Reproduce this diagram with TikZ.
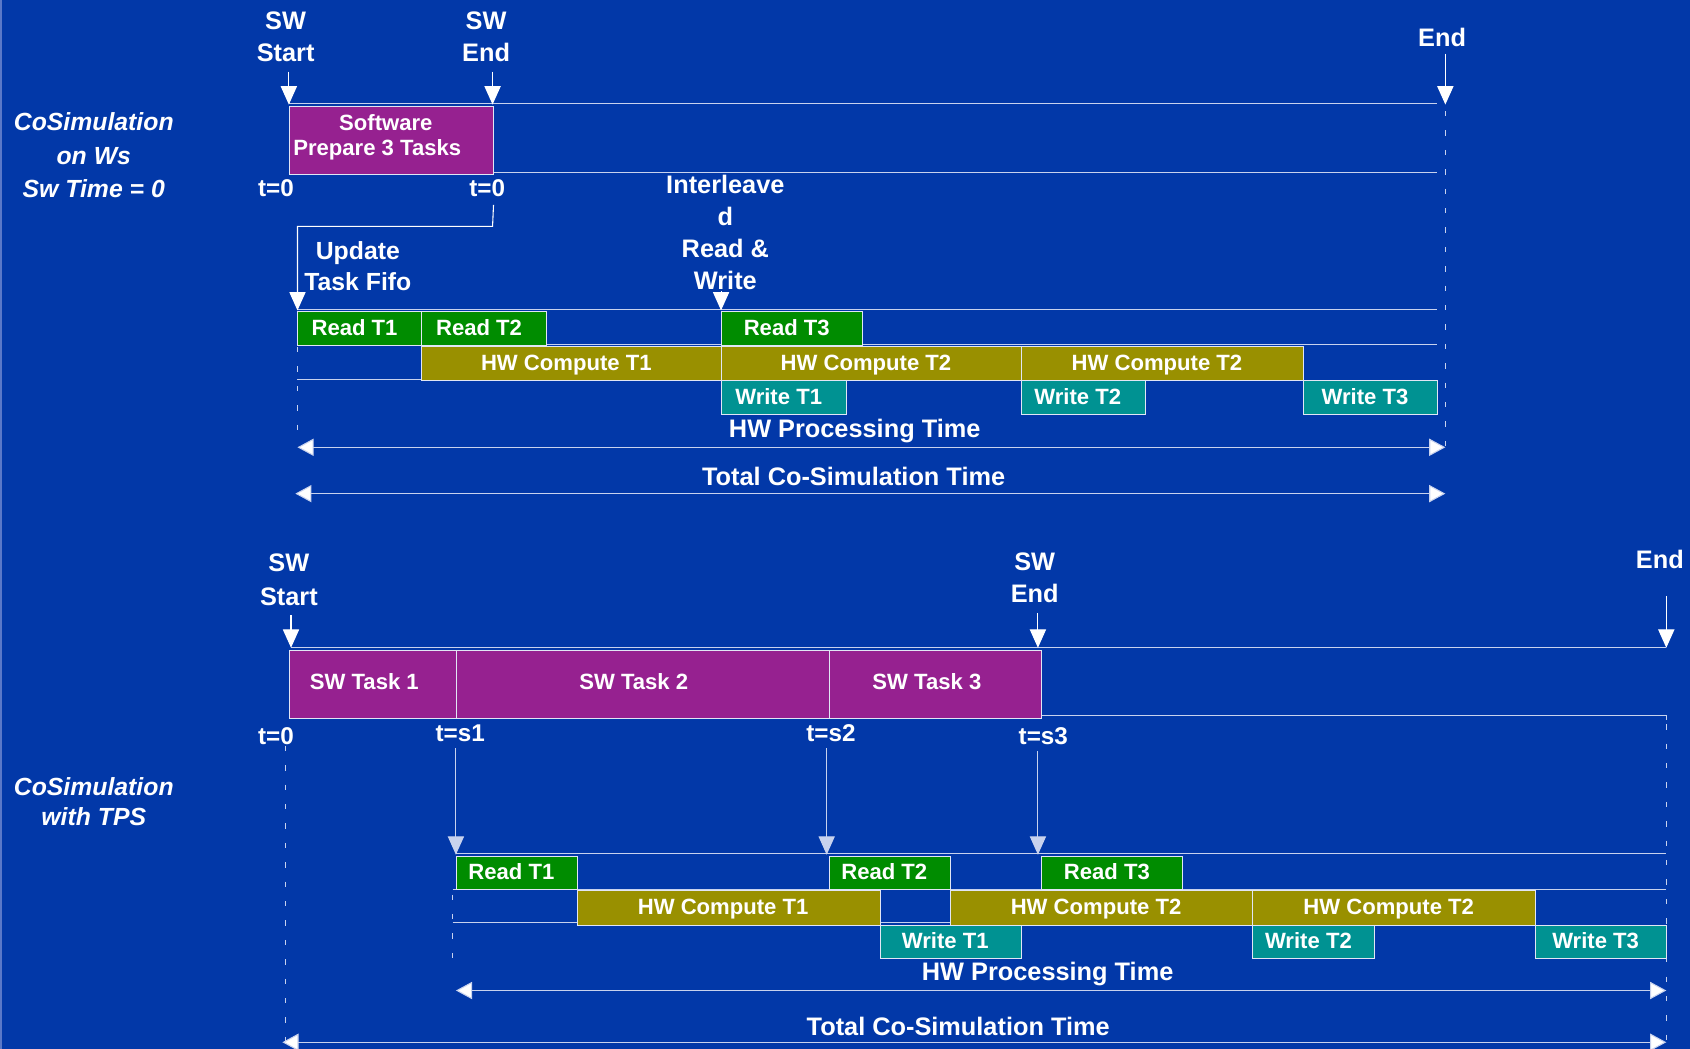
\documentclass[tikz,border=0pt]{standalone}
\usepackage{fontspec}
\setmainfont{Liberation Sans}
\usetikzlibrary{arrows.meta}
\definecolor{bg}{RGB}{2,56,168}
\definecolor{edgeblue}{RGB}{90,120,200}
\definecolor{swpurple}{RGB}{150,33,144}
\definecolor{rdgreen}{RGB}{0,140,0}
\definecolor{cpolive}{RGB}{153,144,0}
\definecolor{wrteal}{RGB}{0,146,146}
\definecolor{linec}{RGB}{200,210,238}
\definecolor{boxline}{RGB}{225,230,245}
\begin{document}
\begin{tikzpicture}[x=1pt,y=-1pt,
  lbl/.style={text=white,align=center,inner sep=0pt,font=\fontsize{23.5}{30}\selectfont\bfseries},
  tlbl/.style={lbl,font=\fontsize{22.5}{30}\selectfont\bfseries},
  side/.style={text=white,align=center,inner sep=0pt,font=\fontsize{23}{31}\selectfont\bfseries\itshape},
  intxt/.style={lbl,font=\fontsize{20.5}{25}\selectfont\bfseries},
  box/.style={draw=boxline,line width=0.9pt,text=white,inner sep=0pt,anchor=north west,align=center,text height=15pt,text depth=3pt,font=\fontsize{20.5}{25}\selectfont\bfseries,execute at begin node={\hspace*{-10pt}}},
  rdbox/.style={box,fill=rdgreen,minimum height=31pt},
  cpbox/.style={box,fill=cpolive,minimum height=32pt},
  wrbox/.style={box,fill=wrteal,minimum height=31pt},
  swbox/.style={box,fill=swpurple,minimum height=63pt},
  tl/.style={draw=linec,line width=1pt},
  dsh/.style={draw=linec,line width=1pt,dash pattern=on 5pt off 13pt},
  mk/.style={draw=white,line width=1pt,-{Triangle[width=15pt,length=17pt]}},
  dim/.style={draw=linec,line width=1pt,{Triangle[width=16pt,length=15pt,fill=white]}-{Triangle[width=16pt,length=15pt,fill=white]}}
]
\fill[bg] (0,0) rectangle (1568,973);
\useasboundingbox (0,0) rectangle (1568,973);
\draw[edgeblue,line width=2pt] (1,0) -- (1,973);

%================ TOP =================
\node[side] (lblA) at (87,144) {CoSimulation\\on Ws\\Sw Time = 0};

\node[lbl] (swstartA) at (265,34) {SW\\Start};
\node[lbl] (swendA) at (451,34) {SW\\End};
\node[lbl] (endA) at (1338,35) {End};

\coordinate (tA0) at (268,97);
\coordinate (tA1) at (457,97);
\coordinate (tAE) at (1341,97);

\draw[tl] (268,96) -- (1333,96);
\draw[tl] (268,160) -- (1333,160);

\node[swbox,minimum width=189pt] (soft) at (268,98) {};
\node[intxt] (softt1) at (358,114) {Software};
\node[intxt] (softt2) at (350,139) {Prepare 3 Tasks};

\draw[mk] ([yshift=-9pt]swstartA.south -| tA0) -- (tA0);
\draw[mk] ([yshift=-9pt]swendA.south -| tA1) -- (tA1);
\draw[mk] ([yshift=-6pt]endA.south -| tAE) -- (tAE);

\node[tlbl] (t0a) at (256,175) {t=0};
\node[tlbl] (t0b) at (452,175) {t=0};

\node[lbl,font=\fontsize{23}{28}\selectfont\bfseries] (upd) at (332,247) {Update\\Task Fifo};
\node[lbl,font=\fontsize{23.5}{29.7}\selectfont\bfseries] (inter) at (673,216) {Interleave\\d\\Read \&\\Write};

\draw[tl] (276,287) -- (1333,287);
\draw[tl] (276,320) -- (1333,320);
\draw[tl] (276,352) -- (391,352);

\node[rdbox,minimum width=115pt] (rdA1) at (276,289) {Read T1};
\node[rdbox,minimum width=116pt] (rdA2) at (391,289) {Read T2};
\node[rdbox,minimum width=131pt] (rdA3) at (669,289) {Read T3};
\node[cpbox,minimum width=278pt] (cpA1) at (391,321) {HW Compute T1};
\node[cpbox,minimum width=278pt] (cpA2) at (669,321) {HW Compute T2};
\node[cpbox,minimum width=262pt] (cpA3) at (947,321) {HW Compute T2};
\node[wrbox,minimum width=116pt] (wrA1) at (669,353) {Write T1};
\node[wrbox,minimum width=115pt] (wrA2) at (947,353) {Write T2};
\node[wrbox,minimum width=124pt] (wrA3) at (1209,353) {Write T3};

\draw[white,line width=1pt] (soft.south east |- 0,190) -- (457,210) -| ([yshift=12pt]rdA1.north west);
\draw[mk] (276,270) -- ([yshift=1pt]rdA1.north west);
\draw[mk] ([yshift=-1pt]inter.south -| rdA3.north west) -- ([yshift=1pt]rdA3.north west);

\draw[dsh] (276,322) -- (276,405);
\draw[dsh] (1341,103) -- (1341,425);

\node[lbl] (hwA) at (793,400) {HW Processing Time};
\coordinate (hwAl) at (276,415);
\coordinate (hwAr) at (1341,415);
\draw[dim] (hwAl) -- (hwAr);
\node[lbl] (totA) at (792,442) {Total Co-Simulation Time};
\coordinate (totAl) at (274,458);
\coordinate (totAr) at (1341,458);
\draw[dim] (totAl) -- (totAr);

%================ BOTTOM =================
\node[side,font=\fontsize{23}{28}\selectfont\bfseries\itshape] (lblB) at (87,744) {CoSimulation\\with TPS};

\node[lbl,font=\fontsize{23.5}{31}\selectfont\bfseries] (swstartB) at (268,538) {SW\\Start};
\node[lbl] (swendB) at (960,536) {SW\\End};
\node[lbl] (endB) at (1540,519) {End};

\coordinate (tB0) at (270,601);
\coordinate (tB3) at (963,601);
\coordinate (tBE) at (1546,601);

\draw[tl] (270,601) -- (1546,601);
\draw[tl] (966,664) -- (1546,664) -- (1546,668);

\node[swbox,minimum width=155pt] (sw1) at (268,603) {};
\node[swbox,minimum width=346pt] (sw2) at (423,603) {};
\node[swbox,minimum width=197pt] (sw3) at (769,603) {};
\node[intxt] at (338,632) {SW Task 1};
\node[intxt] at (588,632) {SW Task 2};
\node[intxt] at (860,632) {SW Task 3};

\draw[mk] ([yshift=-9pt]swstartB.south -| tB0) -- (tB0);
\draw[mk] ([yshift=-9pt]swendB.south -| tB3) -- (tB3);
\draw[mk] ([yshift=-25pt]endB.south -| tBE) -- (tBE);

\node[tlbl] (tb0) at (256,683) {t=0};
\node[tlbl] (tb1) at (427,680) {t=s1};
\node[tlbl] (tb2) at (771,680) {t=s2};
\node[tlbl] (tb3) at (968,683) {t=s3};

\draw[dsh] (265,692) -- (265,973);
\draw[dsh] (1546,672) -- (1546,973);

\draw[tl] (423,792) -- (1546,792);
\draw[tl] (420,825) -- (1546,825);
\draw[tl] (420,856) -- (535,856);
\draw[tl] (816,856) -- (881,856);

\node[rdbox,minimum width=112pt] (rdB1) at (423,794) {Read T1};
\node[rdbox,minimum width=112pt] (rdB2) at (769,794) {Read T2};
\node[rdbox,minimum width=131pt] (rdB3) at (966,794) {Read T3};
\node[cpbox,minimum width=281pt] (cpB1) at (535,826) {HW Compute T1};
\node[cpbox,minimum width=281pt] (cpB2) at (881,826) {HW Compute T2};
\node[cpbox,minimum width=262pt] (cpB3) at (1162,826) {HW Compute T2};
\node[wrbox,minimum width=131pt] (wrB1) at (816,858) {Write T1};
\node[wrbox,minimum width=113pt] (wrB2) at (1162,858) {Write T2};
\node[wrbox,minimum width=122pt] (wrB3) at (1424,858) {Write T3};

\draw[mk,draw=linec] ([yshift=-6pt]tb1.south -| rdB1.north west) -- ([yshift=1pt]rdB1.north west);
\draw[mk,draw=linec] ([yshift=-6pt]tb2.south -| 767,0) -- (767,793);
\draw[mk,draw=linec] ([yshift=-6pt]tb3.south -| tB3) -- (963,793);

\draw[dsh] (420,830) -- (420,900);

\node[lbl] (hwB) at (972,904) {HW Processing Time};
\coordinate (hwBl) at (423,919);
\coordinate (hwBr) at (1546,919);
\draw[dim] (hwBl) -- (hwBr);
\node[lbl] (totB) at (889,952) {Total Co-Simulation Time};
\coordinate (totBl) at (262,967);
\coordinate (totBr) at (1546,967);
\draw[dim] (totBl) -- (totBr);
\end{tikzpicture}
\end{document}
